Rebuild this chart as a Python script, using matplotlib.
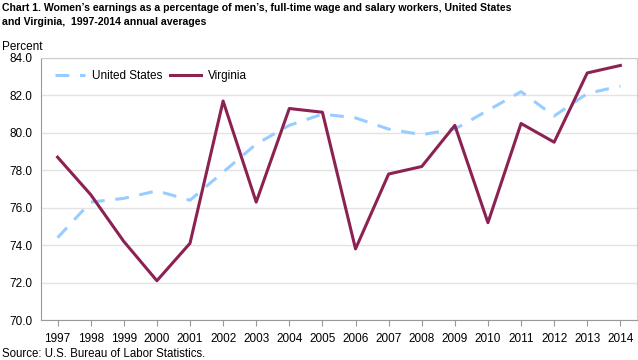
import matplotlib
matplotlib.use('Agg')
import matplotlib.pyplot as plt
import numpy as np

plt.rcParams['font.family'] = ['Liberation Sans', 'DejaVu Sans']

years = list(range(1997, 2015))
us = [74.4, 76.3, 76.5, 76.9, 76.4, 77.9, 79.4, 80.4, 81.0, 80.8,
      80.2, 79.9, 80.2, 81.2, 82.2, 80.9, 82.1, 82.5]
virginia = [78.7, 76.7, 74.2, 72.1, 74.1, 81.7, 76.3, 81.3, 81.1, 73.8,
            77.8, 78.2, 80.4, 75.2, 80.5, 79.5, 83.2, 83.6]
yticks = [70.0, 72.0, 74.0, 76.0, 78.0, 80.0, 82.0, 84.0]

title = ("Chart 1. Women\u2019s earnings as a percentage of men\u2019s, full-time wage and salary workers, United States\n"
         "and Virginia,  1997-2014 annual averages")

fig = plt.figure(figsize=(6.38, 3.6), dpi=100)
ax = fig.add_axes([0.0643, 0.111, 0.934, 0.728])

ax.plot(years, us, color='#99CCFF', lw=2.2, dashes=(4.5, 3.5), label='United States')
ax.plot(years, virginia, color='#8B2252', lw=2.2, label='Virginia')

ax.set_xlim(1996.5, 2014.5)
ax.set_ylim(70, 84)
ax.set_xticks(years)
ax.set_xticklabels([str(y) for y in years], fontsize=8.5)
ax.set_yticks(yticks)
ax.set_yticklabels(['%.1f' % v for v in yticks], fontsize=8.5)
ax.tick_params(axis='y', length=0, pad=6)
ax.tick_params(axis='x', length=4, color='#999999', pad=5)
ax.grid(axis='y', color='#e3e3e3', lw=1)
ax.set_axisbelow(True)
for s in ['top', 'right']:
    ax.spines[s].set_color('#cccccc')
for s in ['left', 'bottom']:
    ax.spines[s].set_color('#999999')

leg = ax.legend(loc='upper left', ncol=2, frameon=False, fontsize=8.5,
                bbox_to_anchor=(0.005, 0.995), handlelength=2.6,
                handletextpad=0.6, columnspacing=0.6)

fig.text(0.003, 0.993, title, fontsize=7.6, fontweight='bold', va='top', ha='left',
         linespacing=1.6)
fig.text(0.003, 0.862, 'Percent', fontsize=8.5, va='baseline', ha='left')
fig.text(0.003, 0.0, 'Source: U.S. Bureau of Labor Statistics.', fontsize=8.3,
         va='bottom', ha='left')

fig.savefig('out.png', dpi=100)
